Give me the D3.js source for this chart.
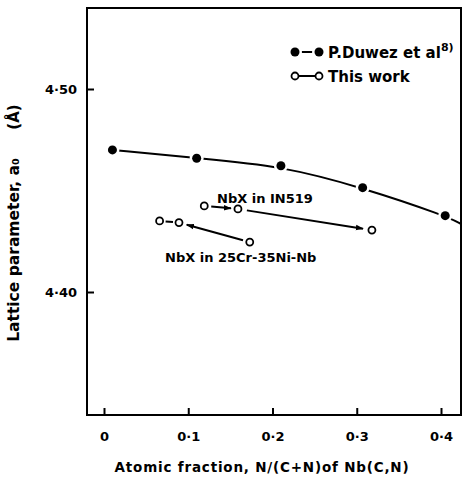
<!DOCTYPE html>
<html>
<head>
	<meta charset="utf-8">
	<title>Lattice parameter vs atomic fraction</title>
	<script src="https://d3js.org/d3.v7.min.js"></script>
	<style>
		body { margin: 0; background: #fff; }
		text { font-family: "DejaVu Sans", sans-serif; font-weight: bold; fill: #000; }
	</style>
</head>
<body>
	<div id="chart"></div>
	<script>
		// Data: P. Duwez et al (filled circles)
		var duwezX = [0.01, 0.11, 0.21, 0.307, 0.405];
		var duwezY = [4.470, 4.4659, 4.4622, 4.4514, 4.4376];
		// fitted curve tail beyond the last point
		var curveEnd = { x: 0.424, y: 4.4335 };

		// This work: NbX in IN519
		var in519X = [0.119, 0.159, 0.318];
		var in519Y = [4.4424, 4.4409, 4.4305];
		// This work: NbX in 25Cr-35Ni-Nb
		var crNiX = [0.066, 0.089, 0.173];
		var crNiY = [4.435, 4.4342, 4.4246];

		var xTicks = [0, 0.1, 0.2, 0.3, 0.4];
		var xTickLabels = ["0", "0·1", "0·2", "0·3", "0·4"];
		var yTicks = [4.40, 4.50];
		var yTickLabels = ["4·40", "4·50"];

		var width = 470, height = 486;
		var plot = { left: 87, top: 8, right: 461, bottom: 415 };

		var x = d3.scaleLinear()
			.domain([0, 0.4])
			.range([104, 441]);
		var y = d3.scaleLinear()
			.domain([4.40, 4.50])
			.range([292, 89]);

		var svg = d3.select("#chart")
			.append("svg")
			.attr("width", width)
			.attr("height", height);

		// frame
		svg.append("rect")
			.attr("x", plot.left)
			.attr("y", plot.top)
			.attr("width", plot.right - plot.left)
			.attr("height", plot.bottom - plot.top)
			.attr("fill", "none")
			.attr("stroke", "#000")
			.attr("stroke-width", 2);

		// x axis ticks (inside) + labels
		var xAxis = d3.axisBottom(x)
			.tickValues(xTicks)
			.tickSize(-7)
			.tickPadding(17)
			.tickFormat((d, i) => xTickLabels[i]);
		var gx = svg.append("g")
			.attr("transform", "translate(0," + plot.bottom + ")")
			.call(xAxis);
		gx.select(".domain").remove();
		gx.selectAll("line").attr("stroke-width", 2);
		gx.selectAll("text").style("font-size", "13px");

		// y axis ticks (inside) + labels
		var yAxis = d3.axisLeft(y)
			.tickValues(yTicks)
			.tickSize(-7)
			.tickPadding(10)
			.tickFormat((d, i) => yTickLabels[i]);
		var gy = svg.append("g")
			.attr("transform", "translate(" + plot.left + ",0)")
			.call(yAxis);
		gy.select(".domain").remove();
		gy.selectAll("line").attr("stroke-width", 2);
		gy.selectAll("text").style("font-size", "13px");

		// axis titles
		svg.append("text")
			.attr("x", 262)
			.attr("y", 472)
			.attr("text-anchor", "middle")
			.style("font-size", "13.5px")
			.style("letter-spacing", "0.8px")
			.text("Atomic fraction, N/(C+N)of  Nb(C,N)");

		svg.append("text")
			.attr("transform", "translate(19,250) rotate(-90)")
			.attr("text-anchor", "middle")
			.style("font-size", "15.5px")
			.text("Lattice  parameter, a₀");
		svg.append("text")
			.attr("transform", "translate(19,117) rotate(-90)")
			.attr("text-anchor", "middle")
			.style("font-size", "15px")
			.text("(Å)");

		// Duwez curve
		var duwez = duwezX.map((d, i) => ({ x: d, y: duwezY[i] }));
		var line = d3.line()
			.x(d => x(d.x))
			.y(d => y(d.y))
			.curve(d3.curveBasis);
		svg.append("path")
			.datum(duwez.concat([curveEnd]))
			.attr("fill", "none")
			.attr("stroke", "#000")
			.attr("stroke-width", 2)
			.attr("d", line);
		svg.selectAll(".duwez")
			.data(duwez)
			.enter()
			.append("circle")
			.attr("cx", d => x(d.x))
			.attr("cy", d => y(d.y))
			.attr("r", 4.5)
			.attr("fill", "#000")
			.attr("stroke", "#fff")
			.attr("stroke-width", 5)
			.attr("paint-order", "stroke");

		// arrow marker
		svg.append("defs").append("marker")
			.attr("id", "arrow")
			.attr("viewBox", "0 0 10 10")
			.attr("refX", 9)
			.attr("refY", 5)
			.attr("markerWidth", 4)
			.attr("markerHeight", 4)
			.attr("markerUnits", "strokeWidth")
			.attr("orient", "auto")
			.append("path")
			.attr("d", "M0,1.5 L10,5 L0,8.5 Z")
			.attr("fill", "#000");

		// segment between two points, shortened at both ends
		function seg(x0, y0, x1, y1, g0, g1, arrow) {
			var ax = x(x0), ay = y(y0), bx = x(x1), by = y(y1);
			var dx = bx - ax, dy = by - ay, len = Math.sqrt(dx * dx + dy * dy);
			var ux = dx / len, uy = dy / len;
			var l = svg.append("line")
				.attr("x1", ax + ux * g0)
				.attr("y1", ay + uy * g0)
				.attr("x2", bx - ux * g1)
				.attr("y2", by - uy * g1)
				.attr("stroke", "#000")
				.attr("stroke-width", 2);
			if (arrow) l.attr("marker-end", "url(#arrow)");
		}

		// IN519 arrows
		seg(in519X[0], in519Y[0], in519X[1], in519Y[1], 7, 7, true);
		seg(in519X[1], in519Y[1], in519X[2], in519Y[2], 9, 9, true);
		// 25Cr-35Ni-Nb: dash and arrow back
		seg(crNiX[0], crNiY[0], crNiX[1], crNiY[1], 6, 6, false);
		seg(crNiX[2], crNiY[2], crNiX[1], crNiY[1], 7, 8, true);

		var open = in519X.map((d, i) => ({ x: d, y: in519Y[i] }))
			.concat(crNiX.map((d, i) => ({ x: d, y: crNiY[i] })));
		svg.selectAll(".open")
			.data(open)
			.enter()
			.append("circle")
			.attr("cx", d => x(d.x))
			.attr("cy", d => y(d.y))
			.attr("r", 3.5)
			.attr("fill", "#fff")
			.attr("stroke", "#000")
			.attr("stroke-width", 1.8);

		// annotations
		svg.append("text")
			.attr("x", 217)
			.attr("y", 203)
			.style("font-size", "13px")
			.text("NbX in IN519");
		svg.append("text")
			.attr("x", 165)
			.attr("y", 262)
			.style("font-size", "13px")
			.text("NbX in  25Cr-35Ni-Nb");

		// legend
		var legend = svg.append("g");
		legend.append("line")
			.attr("x1", 295).attr("x2", 319)
			.attr("y1", 52).attr("y2", 52)
			.attr("stroke", "#000").attr("stroke-width", 2);
		legend.selectAll(".lf")
			.data([295, 319])
			.enter()
			.append("circle")
			.attr("cx", d => d)
			.attr("cy", 52)
			.attr("r", 4.5)
			.attr("fill", "#000")
			.attr("stroke", "#fff")
			.attr("stroke-width", 5)
			.attr("paint-order", "stroke");
		var lt = legend.append("text")
			.attr("x", 328)
			.attr("y", 58)
			.style("font-size", "15px")
			.text("P.Duwez et al");
		lt.append("tspan")
			.attr("dy", -7)
			.style("font-size", "11px")
			.text("8)");

		legend.append("line")
			.attr("x1", 295).attr("x2", 319)
			.attr("y1", 76).attr("y2", 76)
			.attr("stroke", "#000").attr("stroke-width", 2);
		legend.selectAll(".lo")
			.data([295, 319])
			.enter()
			.append("circle")
			.attr("cx", d => d)
			.attr("cy", 76)
			.attr("r", 3.5)
			.attr("fill", "#fff")
			.attr("stroke", "#000")
			.attr("stroke-width", 1.8);
		legend.append("text")
			.attr("x", 328)
			.attr("y", 82)
			.style("font-size", "15px")
			.text("This work");
	</script>
</body>
</html>
